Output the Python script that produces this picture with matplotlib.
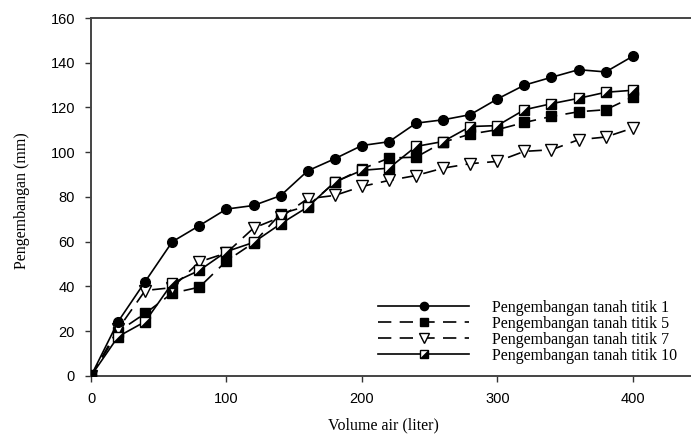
import matplotlib
matplotlib.use("Agg")
import matplotlib.pyplot as plt
from matplotlib.lines import Line2D

# Volume of water added (liter) and soil swelling at each point (mm)
volume = [0, 20, 40, 60, 80, 100, 120, 140, 160, 180, 200,
          220, 240, 260, 280, 300, 320, 340, 360, 380, 400]
titik_1 = [0, 24.3, 42.2, 60.0, 67.2, 74.6, 76.2, 80.6, 91.7, 97.1, 103.0,
           104.7, 113.0, 114.5, 116.8, 123.8, 130.0, 133.5, 136.9, 135.9, 142.9]
titik_5 = [0, 19.8, 28.0, 37.0, 39.7, 51.4, 59.5, 72.5, 76.0, 86.5, 92.5,
           97.4, 97.8, 104.5, 108.1, 110.1, 113.3, 116.0, 118.1, 119.0, 124.7]
titik_7 = [0, 21.0, 38.2, 39.5, 51.0, 55.0, 66.1, 71.0, 79.2, 80.7, 84.7,
           87.4, 89.6, 92.9, 94.9, 95.9, 100.4, 101.1, 105.6, 106.8, 110.8]
titik_10 = [0, 17.6, 24.3, 41.5, 47.2, 55.6, 59.7, 68.0, 75.5, 86.7, 91.9,
            92.9, 102.6, 104.8, 111.5, 111.9, 119.0, 121.7, 124.1, 126.8, 127.7]

labels = ["Pengembangan tanah titik 1", "Pengembangan tanah titik 5",
          "Pengembangan tanah titik 7", "Pengembangan tanah titik 10"]
xticks = [0, 100, 200, 300, 400]
yticks = [0, 20, 40, 60, 80, 100, 120, 140, 160]

serif = "Liberation Serif"
sans = "Liberation Sans"

fig = plt.figure(figsize=(6.91, 4.38), dpi=100)
ax = fig.add_axes([0.1317, 0.1416, 0.8683, 0.8173])

lw = 1.2
dash = (8, 5)

l1, = ax.plot(volume, titik_1, color="black", lw=lw, marker="o", ms=7,
              mfc="black", mec="black", zorder=4)
l5, = ax.plot(volume, titik_5, color="black", lw=lw, dashes=dash, marker="s",
              ms=6.5, mfc="black", mec="black", zorder=3)
l7, = ax.plot(volume, titik_7, color="black", lw=lw, dashes=dash, marker="v",
              ms=8, mfc="white", mec="black", mew=1, zorder=3)
# half-filled square: white square with black lower-right triangle on top
l10, = ax.plot(volume, titik_10, color="black", lw=lw, marker="s", ms=6.5,
               mfc="white", mec="black", mew=1, zorder=3)
tri = [(-1, -1), (1, -1), (1, 1), (-1, -1)]
l10b, = ax.plot(volume, titik_10, ls="none", marker=tri, ms=6.5,
                mfc="black", mec="black", mew=0.5, zorder=3.5)

ax.set_xlim(0, 443)
ax.set_ylim(0, 160)
ax.set_xticks(xticks)
ax.set_yticks(yticks)
ax.set_xticklabels([str(v) for v in xticks], fontfamily=sans, fontsize=10.5)
ax.set_yticklabels([str(v) for v in yticks], fontfamily=sans, fontsize=10.5)
ax.tick_params(direction="out", length=4.5, width=1, color="#333333", pad=7)

for side in ("left", "bottom", "top"):
    ax.spines[side].set_linewidth(1.4)
    ax.spines[side].set_color("#444444")
ax.spines["right"].set_visible(False)

ax.set_xlabel("Volume air (liter)", fontfamily=serif, fontsize=11.5)
ax.set_ylabel("Pengembangan (mm)", fontfamily=serif, fontsize=11.5)
ax.xaxis.set_label_coords(0.487, -0.117)
ax.yaxis.set_label_coords(-0.102, 0.49)

h_tri = Line2D([], [], ls="none", marker=tri, ms=6.5, mfc="black", mec="black", mew=0.5)
leg = ax.legend([l1, l5, l7, (l10, h_tri)], labels, loc="upper left",
                bbox_to_anchor=(378 / 691, 1 - 300 / 438),
                bbox_transform=fig.transFigure, frameon=False,
                handlelength=5.7, handletextpad=1.45, labelspacing=0.0,
                borderpad=0, borderaxespad=0, markerscale=0.85,
                prop={"family": serif, "size": 11.5})

fig.savefig("out.png", dpi=100)
